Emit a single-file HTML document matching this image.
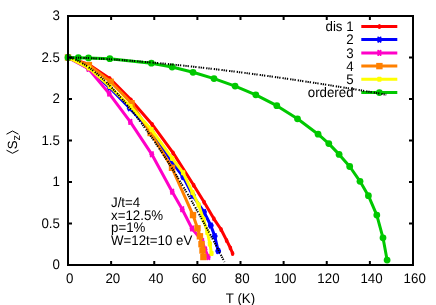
<!DOCTYPE html><html><head><meta charset="utf-8"><style>html,body{margin:0;padding:0;background:#fff}svg{will-change:transform;opacity:0.999}</style></head><body><svg width="436" height="305" viewBox="0 0 436 305" style="display:block;font-family:'Liberation Sans',sans-serif;font-size:13.3px" text-rendering="geometricPrecision"><rect width="436" height="305" fill="#fff"/><polyline fill="none" stroke="#ff0000" stroke-width="3" stroke-linejoin="round" stroke-linecap="butt" points="68.00,57.50 88.85,64.50 109.70,78.40 131.00,99.90 152.20,124.40 173.10,152.90 193.70,185.20 204.20,202.30 213.90,218.80 221.10,229.50 226.60,240.40 230.40,248.00 232.60,253.40"/><ellipse cx="68.00" cy="57.50" rx="1.8" ry="2.5" fill="#ff0000"/><ellipse cx="88.85" cy="64.50" rx="1.8" ry="2.5" fill="#ff0000"/><ellipse cx="109.70" cy="78.40" rx="1.8" ry="2.5" fill="#ff0000"/><ellipse cx="131.00" cy="99.90" rx="1.8" ry="2.5" fill="#ff0000"/><ellipse cx="152.20" cy="124.40" rx="1.8" ry="2.5" fill="#ff0000"/><ellipse cx="173.10" cy="152.90" rx="1.8" ry="2.5" fill="#ff0000"/><ellipse cx="193.70" cy="185.20" rx="1.8" ry="2.5" fill="#ff0000"/><ellipse cx="204.20" cy="202.30" rx="1.8" ry="2.5" fill="#ff0000"/><ellipse cx="213.90" cy="218.80" rx="1.8" ry="2.5" fill="#ff0000"/><ellipse cx="221.10" cy="229.50" rx="1.8" ry="2.5" fill="#ff0000"/><ellipse cx="226.60" cy="240.40" rx="1.8" ry="2.5" fill="#ff0000"/><ellipse cx="230.40" cy="248.00" rx="1.8" ry="2.5" fill="#ff0000"/><ellipse cx="232.60" cy="253.40" rx="1.8" ry="2.5" fill="#ff0000"/><line x1="361.3" x2="397.3" y1="26.4" y2="26.4" stroke="#ff0000" stroke-width="3"/><ellipse cx="379.40" cy="26.40" rx="1.8" ry="2.5" fill="#ff0000"/><polyline fill="none" stroke="#0000ff" stroke-width="3" stroke-linejoin="round" stroke-linecap="butt" points="68.00,57.50 88.85,68.30 109.70,87.80 129.80,108.20 151.40,131.50 172.20,162.00 183.30,177.00 193.00,195.80 204.00,212.00 210.80,225.50 214.70,236.10 218.20,251.00"/><ellipse cx="68.00" cy="57.50" rx="2.9" ry="2.2" fill="#0000ff"/><path d="M66.85 55.30L69.15 59.70M69.15 55.30L66.85 59.70" stroke="#0000ff" stroke-width="1.9" stroke-linecap="round" fill="none"/><ellipse cx="88.85" cy="68.30" rx="2.9" ry="2.2" fill="#0000ff"/><path d="M87.70 66.10L90.00 70.50M90.00 66.10L87.70 70.50" stroke="#0000ff" stroke-width="1.9" stroke-linecap="round" fill="none"/><ellipse cx="109.70" cy="87.80" rx="2.9" ry="2.2" fill="#0000ff"/><path d="M108.55 85.60L110.85 90.00M110.85 85.60L108.55 90.00" stroke="#0000ff" stroke-width="1.9" stroke-linecap="round" fill="none"/><ellipse cx="129.80" cy="108.20" rx="2.9" ry="2.2" fill="#0000ff"/><path d="M128.65 106.00L130.95 110.40M130.95 106.00L128.65 110.40" stroke="#0000ff" stroke-width="1.9" stroke-linecap="round" fill="none"/><ellipse cx="151.40" cy="131.50" rx="2.9" ry="2.2" fill="#0000ff"/><path d="M150.25 129.30L152.55 133.70M152.55 129.30L150.25 133.70" stroke="#0000ff" stroke-width="1.9" stroke-linecap="round" fill="none"/><ellipse cx="172.20" cy="162.00" rx="2.9" ry="2.2" fill="#0000ff"/><path d="M171.05 159.80L173.35 164.20M173.35 159.80L171.05 164.20" stroke="#0000ff" stroke-width="1.9" stroke-linecap="round" fill="none"/><ellipse cx="183.30" cy="177.00" rx="2.9" ry="2.2" fill="#0000ff"/><path d="M182.15 174.80L184.45 179.20M184.45 174.80L182.15 179.20" stroke="#0000ff" stroke-width="1.9" stroke-linecap="round" fill="none"/><ellipse cx="193.00" cy="195.80" rx="2.9" ry="2.2" fill="#0000ff"/><path d="M191.85 193.60L194.15 198.00M194.15 193.60L191.85 198.00" stroke="#0000ff" stroke-width="1.9" stroke-linecap="round" fill="none"/><ellipse cx="204.00" cy="212.00" rx="2.9" ry="2.2" fill="#0000ff"/><path d="M202.85 209.80L205.15 214.20M205.15 209.80L202.85 214.20" stroke="#0000ff" stroke-width="1.9" stroke-linecap="round" fill="none"/><ellipse cx="210.80" cy="225.50" rx="2.9" ry="2.2" fill="#0000ff"/><path d="M209.65 223.30L211.95 227.70M211.95 223.30L209.65 227.70" stroke="#0000ff" stroke-width="1.9" stroke-linecap="round" fill="none"/><ellipse cx="214.70" cy="236.10" rx="2.9" ry="2.2" fill="#0000ff"/><path d="M213.55 233.90L215.85 238.30M215.85 233.90L213.55 238.30" stroke="#0000ff" stroke-width="1.9" stroke-linecap="round" fill="none"/><ellipse cx="218.20" cy="251.00" rx="2.9" ry="2.2" fill="#0000ff"/><path d="M217.05 248.80L219.35 253.20M219.35 248.80L217.05 253.20" stroke="#0000ff" stroke-width="1.9" stroke-linecap="round" fill="none"/><line x1="361.3" x2="397.3" y1="39.6" y2="39.6" stroke="#0000ff" stroke-width="3"/><ellipse cx="379.40" cy="39.60" rx="2.9" ry="2.2" fill="#0000ff"/><path d="M378.25 37.40L380.55 41.80M380.55 37.40L378.25 41.80" stroke="#0000ff" stroke-width="1.9" stroke-linecap="round" fill="none"/><polyline fill="none" stroke="#ff00c8" stroke-width="3" stroke-linejoin="round" stroke-linecap="butt" points="68.00,57.50 88.50,68.80 109.20,93.60 130.30,121.90 151.80,154.30 172.20,191.70 182.20,209.20 192.00,228.50 202.20,241.00 205.10,249.50 208.30,257.00"/><ellipse cx="68.00" cy="57.50" rx="2.4" ry="2.2" fill="#ff00c8"/><path d="M66.85 55.30L69.15 59.70M69.15 55.30L66.85 59.70" stroke="#ff00c8" stroke-width="1.9" stroke-linecap="round" fill="none"/><ellipse cx="88.50" cy="68.80" rx="2.4" ry="2.2" fill="#ff00c8"/><path d="M87.35 66.60L89.65 71.00M89.65 66.60L87.35 71.00" stroke="#ff00c8" stroke-width="1.9" stroke-linecap="round" fill="none"/><ellipse cx="109.20" cy="93.60" rx="2.4" ry="2.2" fill="#ff00c8"/><path d="M108.05 91.40L110.35 95.80M110.35 91.40L108.05 95.80" stroke="#ff00c8" stroke-width="1.9" stroke-linecap="round" fill="none"/><ellipse cx="130.30" cy="121.90" rx="2.4" ry="2.2" fill="#ff00c8"/><path d="M129.15 119.70L131.45 124.10M131.45 119.70L129.15 124.10" stroke="#ff00c8" stroke-width="1.9" stroke-linecap="round" fill="none"/><ellipse cx="151.80" cy="154.30" rx="2.4" ry="2.2" fill="#ff00c8"/><path d="M150.65 152.10L152.95 156.50M152.95 152.10L150.65 156.50" stroke="#ff00c8" stroke-width="1.9" stroke-linecap="round" fill="none"/><ellipse cx="172.20" cy="191.70" rx="2.4" ry="2.2" fill="#ff00c8"/><path d="M171.05 189.50L173.35 193.90M173.35 189.50L171.05 193.90" stroke="#ff00c8" stroke-width="1.9" stroke-linecap="round" fill="none"/><ellipse cx="182.20" cy="209.20" rx="2.4" ry="2.2" fill="#ff00c8"/><path d="M181.05 207.00L183.35 211.40M183.35 207.00L181.05 211.40" stroke="#ff00c8" stroke-width="1.9" stroke-linecap="round" fill="none"/><ellipse cx="192.00" cy="228.50" rx="2.4" ry="2.2" fill="#ff00c8"/><path d="M190.85 226.30L193.15 230.70M193.15 226.30L190.85 230.70" stroke="#ff00c8" stroke-width="1.9" stroke-linecap="round" fill="none"/><ellipse cx="202.20" cy="241.00" rx="2.4" ry="2.2" fill="#ff00c8"/><path d="M201.05 238.80L203.35 243.20M203.35 238.80L201.05 243.20" stroke="#ff00c8" stroke-width="1.9" stroke-linecap="round" fill="none"/><ellipse cx="205.10" cy="249.50" rx="2.4" ry="2.2" fill="#ff00c8"/><path d="M203.95 247.30L206.25 251.70M206.25 247.30L203.95 251.70" stroke="#ff00c8" stroke-width="1.9" stroke-linecap="round" fill="none"/><ellipse cx="208.30" cy="257.00" rx="2.4" ry="2.2" fill="#ff00c8"/><path d="M207.15 254.80L209.45 259.20M209.45 254.80L207.15 259.20" stroke="#ff00c8" stroke-width="1.9" stroke-linecap="round" fill="none"/><line x1="361.3" x2="397.3" y1="52.9" y2="52.9" stroke="#ff00c8" stroke-width="3"/><ellipse cx="379.40" cy="52.90" rx="2.4" ry="2.2" fill="#ff00c8"/><path d="M378.25 50.70L380.55 55.10M380.55 50.70L378.25 55.10" stroke="#ff00c8" stroke-width="1.9" stroke-linecap="round" fill="none"/><polyline fill="none" stroke="#ff8000" stroke-width="3" stroke-linejoin="round" stroke-linecap="butt" points="68.00,57.50 88.90,65.10 110.60,81.80 131.50,103.20 150.60,133.00 172.00,167.80 193.00,215.10 197.50,228.30 199.90,236.30 201.50,244.20 202.50,250.50 203.40,257.00"/><rect x="64.80" y="54.30" width="6.4" height="6.4" fill="#ff8000"/><rect x="85.70" y="61.90" width="6.4" height="6.4" fill="#ff8000"/><rect x="107.40" y="78.60" width="6.4" height="6.4" fill="#ff8000"/><rect x="128.30" y="100.00" width="6.4" height="6.4" fill="#ff8000"/><rect x="147.40" y="129.80" width="6.4" height="6.4" fill="#ff8000"/><rect x="168.80" y="164.60" width="6.4" height="6.4" fill="#ff8000"/><rect x="189.80" y="211.90" width="6.4" height="6.4" fill="#ff8000"/><rect x="194.30" y="225.10" width="6.4" height="6.4" fill="#ff8000"/><rect x="196.70" y="233.10" width="6.4" height="6.4" fill="#ff8000"/><rect x="198.30" y="241.00" width="6.4" height="6.4" fill="#ff8000"/><rect x="199.30" y="247.30" width="6.4" height="6.4" fill="#ff8000"/><rect x="200.20" y="253.80" width="6.4" height="6.4" fill="#ff8000"/><line x1="361.3" x2="397.3" y1="66.1" y2="66.1" stroke="#ff8000" stroke-width="3"/><rect x="376.20" y="62.90" width="6.4" height="6.4" fill="#ff8000"/><polyline fill="none" stroke="#ffff00" stroke-width="3" stroke-linejoin="round" stroke-linecap="butt" points="68.00,57.50 88.85,68.00 109.70,86.50 130.50,106.50 151.40,129.50 172.20,158.40 183.20,172.80 192.50,192.40 198.70,205.00 203.50,219.50 207.40,232.50 209.90,244.00 211.50,253.40"/><rect x="65.90" y="55.00" width="4.2" height="5.0" rx="0.8" fill="#ffff00"/><rect x="86.75" y="65.50" width="4.2" height="5.0" rx="0.8" fill="#ffff00"/><rect x="107.60" y="84.00" width="4.2" height="5.0" rx="0.8" fill="#ffff00"/><rect x="128.40" y="104.00" width="4.2" height="5.0" rx="0.8" fill="#ffff00"/><rect x="149.30" y="127.00" width="4.2" height="5.0" rx="0.8" fill="#ffff00"/><rect x="170.10" y="155.90" width="4.2" height="5.0" rx="0.8" fill="#ffff00"/><rect x="181.10" y="170.30" width="4.2" height="5.0" rx="0.8" fill="#ffff00"/><rect x="190.40" y="189.90" width="4.2" height="5.0" rx="0.8" fill="#ffff00"/><rect x="196.60" y="202.50" width="4.2" height="5.0" rx="0.8" fill="#ffff00"/><rect x="201.40" y="217.00" width="4.2" height="5.0" rx="0.8" fill="#ffff00"/><rect x="205.30" y="230.00" width="4.2" height="5.0" rx="0.8" fill="#ffff00"/><rect x="207.80" y="241.50" width="4.2" height="5.0" rx="0.8" fill="#ffff00"/><rect x="209.40" y="250.90" width="4.2" height="5.0" rx="0.8" fill="#ffff00"/><line x1="361.3" x2="397.3" y1="79.3" y2="79.3" stroke="#ffff00" stroke-width="3"/><rect x="377.30" y="76.80" width="4.2" height="5.0" rx="0.8" fill="#ffff00"/><polyline fill="none" stroke="#00c800" stroke-width="3" stroke-linejoin="round" stroke-linecap="butt" points="68.00,57.50 78.30,57.70 88.50,57.90 109.80,58.70 151.40,63.20 172.10,67.00 193.00,72.30 214.00,78.60 235.10,86.10 255.80,94.80 276.80,105.70 297.50,118.80 318.10,134.20 328.80,143.60 339.10,154.40 349.70,166.50 360.00,181.30 368.40,195.70 376.80,215.10 383.00,237.80 387.10,260.10"/><circle cx="68.00" cy="57.50" r="3.4" fill="#00c800"/><circle cx="78.30" cy="57.70" r="3.4" fill="#00c800"/><circle cx="88.50" cy="57.90" r="3.4" fill="#00c800"/><circle cx="109.80" cy="58.70" r="3.4" fill="#00c800"/><circle cx="151.40" cy="63.20" r="3.4" fill="#00c800"/><circle cx="172.10" cy="67.00" r="3.4" fill="#00c800"/><circle cx="193.00" cy="72.30" r="3.4" fill="#00c800"/><circle cx="214.00" cy="78.60" r="3.4" fill="#00c800"/><circle cx="235.10" cy="86.10" r="3.4" fill="#00c800"/><circle cx="255.80" cy="94.80" r="3.4" fill="#00c800"/><circle cx="276.80" cy="105.70" r="3.4" fill="#00c800"/><circle cx="297.50" cy="118.80" r="3.4" fill="#00c800"/><circle cx="318.10" cy="134.20" r="3.4" fill="#00c800"/><circle cx="328.80" cy="143.60" r="3.4" fill="#00c800"/><circle cx="339.10" cy="154.40" r="3.4" fill="#00c800"/><circle cx="349.70" cy="166.50" r="3.4" fill="#00c800"/><circle cx="360.00" cy="181.30" r="3.4" fill="#00c800"/><circle cx="368.40" cy="195.70" r="3.4" fill="#00c800"/><circle cx="376.80" cy="215.10" r="3.4" fill="#00c800"/><circle cx="383.00" cy="237.80" r="3.4" fill="#00c800"/><circle cx="387.10" cy="260.10" r="3.4" fill="#00c800"/><line x1="361.3" x2="397.3" y1="92.6" y2="92.6" stroke="#00c800" stroke-width="3"/><circle cx="379.40" cy="92.60" r="3.4" fill="#00c800"/><polyline fill="none" stroke="#000" stroke-width="2" stroke-dasharray="1.3 0.9 1.3 0.9 1.3 2.0" points="68.00,57.50 69.59,57.51 71.18,57.54 72.77,57.57 74.37,57.61 75.96,57.65 77.55,57.69 79.14,57.74 80.73,57.80 82.32,57.86 83.91,57.92 85.50,57.98 87.10,58.05 88.69,58.12 90.28,58.19 91.87,58.26 93.46,58.34 95.05,58.42 96.64,58.50 98.23,58.59 99.83,58.68 101.42,58.77 103.01,58.86 104.60,58.95 106.19,59.05 107.78,59.14 109.37,59.24 110.97,59.35 112.56,59.45 114.15,59.55 115.74,59.66 117.33,59.77 118.92,59.88 120.51,59.99 122.10,60.11 123.70,60.22 125.29,60.34 126.88,60.46 128.47,60.58 130.06,60.70 131.65,60.83 133.24,60.95 134.84,61.08 136.43,61.21 138.02,61.34 139.61,61.47 141.20,61.60 142.79,61.74 144.38,61.87 145.97,62.01 147.57,62.15 149.16,62.29 150.75,62.43 152.34,62.58 153.93,62.72 155.52,62.87 157.11,63.01 158.70,63.16 160.30,63.31 161.89,63.46 163.48,63.61 165.07,63.77 166.66,63.92 168.25,64.08 169.84,64.24 171.44,64.39 173.03,64.55 174.62,64.71 176.21,64.88 177.80,65.04 179.39,65.20 180.98,65.37 182.57,65.54 184.17,65.71 185.76,65.87 187.35,66.04 188.94,66.22 190.53,66.39 192.12,66.56 193.71,66.74 195.31,66.91 196.90,67.09 198.49,67.27 200.08,67.45 201.67,67.63 203.26,67.81 204.85,67.99 206.44,68.18 208.04,68.36 209.63,68.55 211.22,68.73 212.81,68.92 214.40,69.11 215.99,69.30 217.58,69.49 219.17,69.68 220.77,69.87 222.36,70.07 223.95,70.26 225.54,70.46 227.13,70.66 228.72,70.85 230.31,71.05 231.91,71.25 233.50,71.45 235.09,71.65 236.68,71.86 238.27,72.06 239.86,72.27 241.45,72.47 243.04,72.68 244.64,72.88 246.23,73.09 247.82,73.30 249.41,73.51 251.00,73.72 252.59,73.94 254.18,74.15 255.77,74.36 257.37,74.58 258.96,74.79 260.55,75.01 262.14,75.23 263.73,75.45 265.32,75.66 266.91,75.89 268.51,76.11 270.10,76.33 271.69,76.55 273.28,76.77 274.87,77.00 276.46,77.22 278.05,77.45 279.64,77.68 281.24,77.91 282.83,78.13 284.42,78.36 286.01,78.60 287.60,78.83 289.19,79.06 290.78,79.29 292.38,79.53 293.97,79.76 295.56,80.00 297.15,80.23 298.74,80.47 300.33,80.71 301.92,80.95 303.51,81.19 305.11,81.43 306.70,81.67 308.29,81.91 309.88,82.15 311.47,82.40 313.06,82.64 314.65,82.89 316.24,83.13 317.84,83.38 319.43,83.63 321.02,83.88 322.61,84.12 324.20,84.37 325.79,84.63 327.38,84.88 328.98,85.13 330.57,85.38 332.16,85.64 333.75,85.89 335.34,86.15 336.93,86.40 338.52,86.66 340.11,86.92 341.71,87.18 343.30,87.43 344.89,87.69 346.48,87.96 348.07,88.22 349.66,88.48 351.25,88.74 352.84,89.01 354.44,89.27 356.03,89.53 357.62,89.80 359.21,90.07 360.80,90.33 362.39,90.60 363.98,90.87 365.58,91.14 367.17,91.41 368.76,91.68 370.35,91.95 371.94,92.23 373.53,92.50 375.12,92.77 376.71,93.05 378.31,93.32 379.90,93.60 381.49,93.87 383.08,94.15 384.67,94.43 386.26,94.71"/><polyline fill="none" stroke="#000" stroke-width="2" stroke-dasharray="1.3 0.9 1.3 0.9 1.3 2.0" points="68.00,57.50 68.78,57.57 69.57,57.70 70.35,57.88 71.13,58.08 71.91,58.31 72.70,58.56 73.48,58.84 74.26,59.14 75.04,59.45 75.83,59.79 76.61,60.14 77.39,60.51 78.18,60.89 78.96,61.29 79.74,61.70 80.52,62.13 81.31,62.57 82.09,63.02 82.87,63.49 83.65,63.97 84.44,64.46 85.22,64.96 86.00,65.48 86.79,66.00 87.57,66.54 88.35,67.09 89.13,67.64 89.92,68.21 90.70,68.79 91.48,69.38 92.26,69.98 93.05,70.59 93.83,71.21 94.61,71.83 95.40,72.47 96.18,73.12 96.96,73.77 97.74,74.44 98.53,75.11 99.31,75.79 100.09,76.48 100.87,77.18 101.66,77.89 102.44,78.60 103.22,79.33 104.01,80.06 104.79,80.80 105.57,81.54 106.35,82.30 107.14,83.06 107.92,83.83 108.70,84.61 109.48,85.40 110.27,86.19 111.05,86.99 111.83,87.80 112.61,88.61 113.40,89.44 114.18,90.27 114.96,91.10 115.75,91.95 116.53,92.80 117.31,93.65 118.09,94.52 118.88,95.39 119.66,96.27 120.44,97.15 121.22,98.04 122.01,98.94 122.79,99.84 123.57,100.75 124.36,101.67 125.14,102.60 125.92,103.53 126.70,104.46 127.49,105.40 128.27,106.35 129.05,107.31 129.83,108.27 130.62,109.23 131.40,110.21 132.18,111.19 132.97,112.17 133.75,113.16 134.53,114.16 135.31,115.16 136.10,116.17 136.88,117.19 137.66,118.21 138.44,119.23 139.23,120.26 140.01,121.30 140.79,122.34 141.58,123.39 142.36,124.45 143.14,125.51 143.92,126.57 144.71,127.64 145.49,128.72 146.27,129.80 147.05,130.89 147.84,131.98 148.62,133.08 149.40,134.18 150.19,135.29 150.97,136.41 151.75,137.52 152.53,138.65 153.32,139.78 154.10,140.91 154.88,142.05 155.66,143.20 156.45,144.35 157.23,145.50 158.01,146.67 158.80,147.83 159.58,149.00 160.36,150.18 161.14,151.36 161.93,152.54 162.71,153.73 163.49,154.93 164.27,156.13 165.06,157.33 165.84,158.54 166.62,159.76 167.41,160.98 168.19,162.20 168.97,163.43 169.75,164.67 170.54,165.91 171.32,167.15 172.10,168.40 172.88,169.65 173.67,170.91 174.45,172.17 175.23,173.44 176.02,174.71 176.80,175.99 177.58,177.27 178.36,178.55 179.15,179.84 179.93,181.14 180.71,182.44 181.49,183.74 182.28,185.05 183.06,186.36 183.84,187.68 184.63,189.00 185.41,190.33 186.19,191.66 186.97,192.99 187.76,194.33 188.54,195.67 189.32,197.02 190.10,198.38 190.89,199.73 191.67,201.09 192.45,202.46 193.24,203.83 194.02,205.20 194.80,206.58 195.58,207.96 196.37,209.35 197.15,210.74 197.93,212.14 198.71,213.54 199.50,214.94 200.28,216.35 201.06,217.76 201.84,219.17 202.63,220.60 203.41,222.02 204.19,223.45 204.98,224.88 205.76,226.32 206.54,227.76 207.32,229.20 208.11,230.65 208.89,232.11 209.67,233.56 210.45,235.02 211.24,236.49 212.02,237.96 212.80,239.43 213.59,240.91 214.37,242.39 215.15,243.87 215.93,245.36 216.72,246.86 217.50,248.35 218.28,249.85 219.06,251.36 219.85,252.87 220.63,254.38 221.41,255.90 222.20,257.42 222.98,258.94 223.76,260.47 224.54,262.00"/><text transform="translate(353.60 31.00) scale(1 1.045)" text-anchor="end">dis 1</text><text transform="translate(353.60 44.20) scale(1 1.045)" text-anchor="end">2</text><text transform="translate(353.60 57.50) scale(1 1.045)" text-anchor="end">3</text><text transform="translate(353.60 70.70) scale(1 1.045)" text-anchor="end">4</text><text transform="translate(353.60 83.90) scale(1 1.045)" text-anchor="end">5</text><text transform="translate(353.60 97.20) scale(1 1.045)" text-anchor="end">ordered</text><rect x="68.0" y="16.0" width="345.0" height="249.0" fill="none" stroke="#000" stroke-width="2"/><path d="M68.00 265.00v-4M68.00 16.00v4M111.12 265.00v-4M111.12 16.00v4M154.25 265.00v-4M154.25 16.00v4M197.38 265.00v-4M197.38 16.00v4M240.50 265.00v-4M240.50 16.00v4M283.62 265.00v-4M283.62 16.00v4M326.75 265.00v-4M326.75 16.00v4M369.88 265.00v-4M369.88 16.00v4M413.00 265.00v-4M413.00 16.00v4M68.00 265.00h4M413.00 265.00h-4M68.00 223.50h4M413.00 223.50h-4M68.00 182.00h4M413.00 182.00h-4M68.00 140.50h4M413.00 140.50h-4M68.00 99.00h4M413.00 99.00h-4M68.00 57.50h4M413.00 57.50h-4M68.00 16.00h4M413.00 16.00h-4" stroke="#000" stroke-width="2" fill="none"/><text transform="translate(69.70 282.60) scale(1 1.045)" text-anchor="middle">0</text><text transform="translate(112.83 282.60) scale(1 1.045)" text-anchor="middle">20</text><text transform="translate(155.95 282.60) scale(1 1.045)" text-anchor="middle">40</text><text transform="translate(199.07 282.60) scale(1 1.045)" text-anchor="middle">60</text><text transform="translate(242.20 282.60) scale(1 1.045)" text-anchor="middle">80</text><text transform="translate(285.32 282.60) scale(1 1.045)" text-anchor="middle">100</text><text transform="translate(328.45 282.60) scale(1 1.045)" text-anchor="middle">120</text><text transform="translate(371.57 282.60) scale(1 1.045)" text-anchor="middle">140</text><text transform="translate(414.70 282.60) scale(1 1.045)" text-anchor="middle">160</text><text transform="translate(59.90 269.30) scale(1 1.045)" text-anchor="end">0</text><text transform="translate(59.90 227.80) scale(1 1.045)" text-anchor="end">0.5</text><text transform="translate(59.90 186.30) scale(1 1.045)" text-anchor="end">1</text><text transform="translate(59.90 144.80) scale(1 1.045)" text-anchor="end">1.5</text><text transform="translate(59.90 103.30) scale(1 1.045)" text-anchor="end">2</text><text transform="translate(59.90 61.80) scale(1 1.045)" text-anchor="end">2.5</text><text transform="translate(59.90 20.30) scale(1 1.045)" text-anchor="end">3</text><text transform="translate(240.50 303.00) scale(1 1.045)" text-anchor="middle">T (K)</text><text transform="translate(111.00 206.70) scale(1 1.045)" text-anchor="start">J/t=4</text><text transform="translate(111.00 220.00) scale(1 1.045)" text-anchor="start">x=12.5%</text><text transform="translate(111.00 231.90) scale(1 1.045)" text-anchor="start">p=1%</text><text transform="translate(111.00 244.50) scale(1 1.045)" text-anchor="start">W=12t=10 eV</text><g transform="translate(17,142) rotate(-90)"><path d="M-8.2 -10.5L-11.3 -4.5L-8.2 1.5" stroke="#000" stroke-width="1" fill="none"/><text x="-7.2" y="0">S</text><text x="1.4" y="3.4" font-size="11px">z</text><path d="M7.8 -10.5L11.0 -4.5L7.8 1.5" stroke="#000" stroke-width="1" fill="none"/></g></svg></body></html>
